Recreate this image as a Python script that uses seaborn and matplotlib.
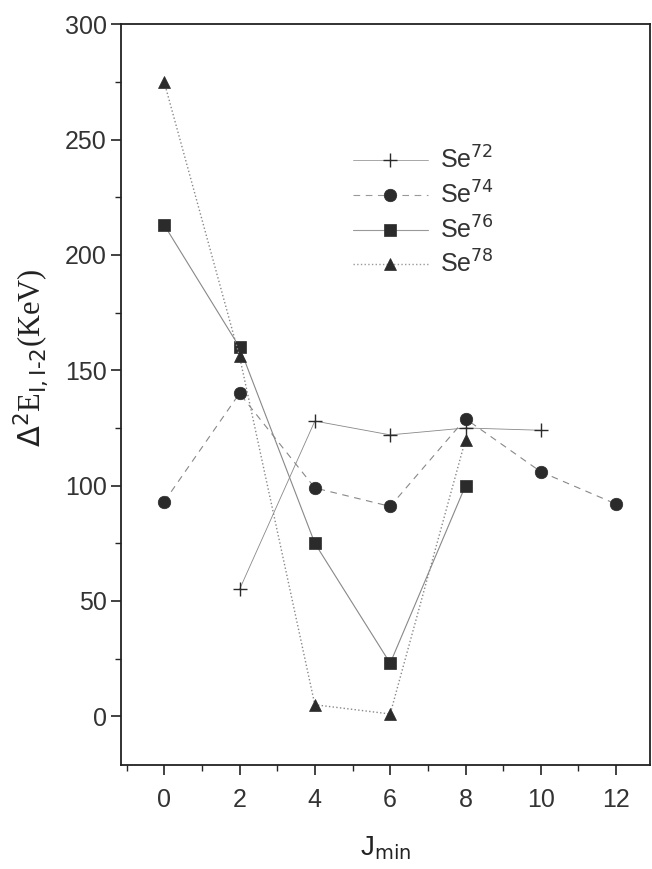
import numpy as np
import pandas as pd
import matplotlib
matplotlib.use('Agg')
import matplotlib.pyplot as plt
from matplotlib.ticker import MultipleLocator
import seaborn as sns

# 数据
se72_j = [2, 4, 6, 8, 10]
se72_e = [55, 128, 122, 125, 124]
se74_j = [0, 2, 4, 6, 8, 10, 12]
se74_e = [93, 140, 99, 91, 129, 106, 92]
se76_j = [0, 2, 4, 6, 8]
se76_e = [213, 160, 75, 23, 100]
se78_j = [0, 2, 4, 6, 8]
se78_e = [275, 156, 5, 1, 120]

sns.set_style('ticks')
plt.rcParams['font.family'] = ['Liberation Sans', 'DejaVu Sans']

fig = plt.figure(figsize=(6.52, 8.69), dpi=100)
ax = fig.add_axes([0.186, 0.12, 0.811, 0.852])

series = [
    (se72_j, se72_e, 'Se$^{72}$', '+', '-', 10, 0.6),
    (se74_j, se74_e, 'Se$^{74}$', 'o', (0, (6, 5)), 9, 0.8),
    (se76_j, se76_e, 'Se$^{76}$', 's', '-', 9, 0.8),
    (se78_j, se78_e, 'Se$^{78}$', '^', ':', 9, 1.0),
]

for j, e, lab, mk, ls, ms, lw in series:
    df = pd.DataFrame({'J': j, 'E': e})
    sns.lineplot(data=df, x='J', y='E', ax=ax, color='#888888', linestyle=ls,
                 linewidth=lw, marker=mk, markersize=ms, markerfacecolor='#2b2b2b',
                 markeredgecolor='#2b2b2b', markeredgewidth=1.0 if mk == '+' else 0.5,
                 label=lab, sort=False)

ax.set_xlim(-1.14, 12.9)
ax.set_ylim(-21, 300)
ax.xaxis.set_major_locator(MultipleLocator(2))
ax.xaxis.set_minor_locator(MultipleLocator(1))
ax.yaxis.set_major_locator(MultipleLocator(50))
ax.yaxis.set_minor_locator(MultipleLocator(25))
ax.tick_params(which='major', direction='out', length=7, width=1.2, labelsize=18,
               colors='#222222', labelcolor='#333333')
ax.tick_params(which='minor', direction='out', length=4, width=1.0)
ax.tick_params(axis='x', pad=10)
for s in ax.spines.values():
    s.set_linewidth(1.3)
    s.set_color('#222222')

ax.set_xlabel('J$_{\\mathrm{min}}$', fontsize=20, labelpad=16, color='#222222')
ax.set_ylabel(r'$\Delta^2$E$_{\mathrm{I,I\text{-}2}}$(KeV)', fontsize=22,
              family='Liberation Serif', color='#222222')
ax.yaxis.set_label_coords(-0.135, 0.55)

leg = ax.legend(loc='upper left', bbox_to_anchor=(0.395, 0.865), frameon=False, fontsize=18,
                handlelength=3.0, labelspacing=0.3, handletextpad=0.5)
for h in leg.legend_handles:
    h.set_color('#999999')
    h.set_markerfacecolor('#2b2b2b')
    h.set_markeredgecolor('#2b2b2b')
for t in leg.get_texts():
    t.set_color('#333333')

fig.savefig('out.png', dpi=100)
